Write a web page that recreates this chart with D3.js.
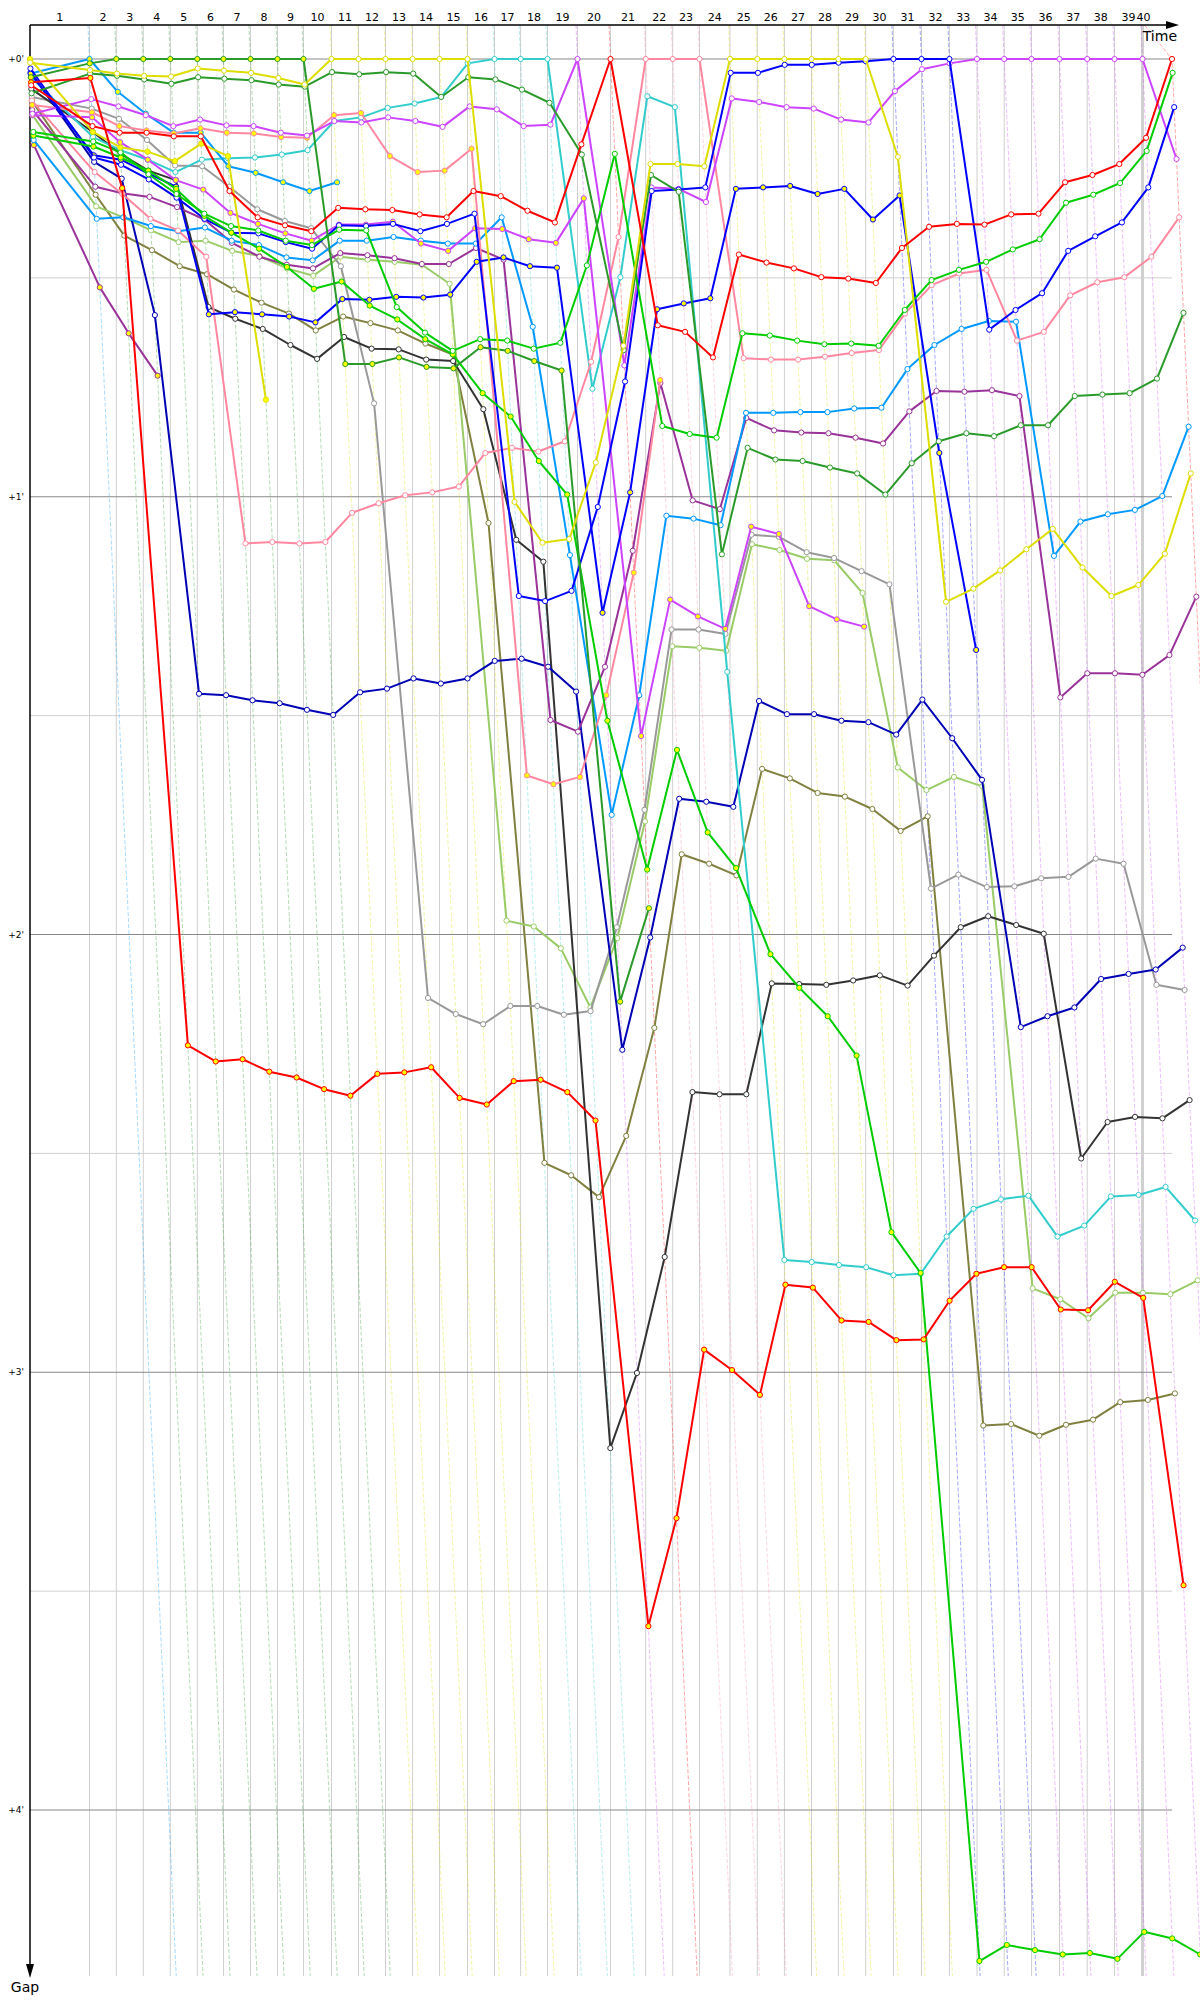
<!DOCTYPE html>
<html>
<head>
<meta charset="utf-8">
<script src="https://cdn.jsdelivr.net/npm/d3@7"></script>
<style>
body { margin: 0; background: #fff; }
text { font-family: 'DejaVu Sans', Verdana, sans-serif; }
</style>
</head>
<body>
<div id="chart"></div>
<script>
// leader race time (s) at the end of each lap, lap 0 = start
var leaderTime = [0, 180.3, 261.5, 343.3, 425.2, 507.0, 586.4, 668.2, 750.0, 828.8, 913.6, 995.5, 1077.3, 1159.4,
    1240.9, 1325.8, 1407.6, 1486.7, 1568.2, 1659.1, 1759.1, 1865.8, 1947.6, 2028.8, 2121.2, 2203.9, 2286.1, 2368.2,
    2449.7, 2532.4, 2616.4, 2701.5, 2786.1, 2869.7, 2952.1, 3034.8, 3119.7, 3203.6, 3286.4, 3371.2, 3460.6]

var lapLabels = d3.range(1, 41).map(String)
var gapTicks = [0, 60, 120, 180, 240]
var gapTickLabels = ["+0'", "+1'", "+2'", "+3'", "+4'"]
var halfTicks = [30, 90, 150, 210]

// gap to leader in seconds, one value per lap from lap 0
var redA = [3.6, 9.2, 10.1, 10.1, 10.6, 10.6, 18.1, 21.7, 22.8, 23.6, 20.4, 20.6, 20.7, 21.3, 21.7, 18.1, 18.8, 20.8, 22.4, 11.7, 0, 36.5, 37.4, 40.9, 26.8, 27.9, 28.7, 29.9, 30.1, 30.7, 25.9, 23.0, 22.6, 22.7, 21.3, 21.2, 16.9, 15.9, 14.4, 10.8, 0]
var redB = [3.2, 2.6, 17.7, 135.2, 137.4, 137.1, 138.8, 139.6, 141.2, 142.1, 139.1, 138.9, 138.2, 142.4, 143.3, 140.1, 139.9, 141.6, 145.5, 214.8, 200.0, 176.9, 179.7, 183.1, 168.0, 168.4, 172.9, 173.1, 175.6, 175.5, 170.2, 166.5, 165.6, 165.6, 171.4, 171.5, 167.6, 169.8, 209.2]
var limeA = [10.0, 11.3, 12.8, 15.8, 18.5, 21.2, 22.9, 23.5, 24.9, 25.5, 23.4, 23.5, 34.0, 37.5, 40.0, 38.4, 38.6, 39.7, 38.9, 28.3, 13.0, 50.3, 51.4, 51.9, 37.6, 37.9, 38.6, 39.1, 39.0, 39.3, 34.4, 30.3, 28.9, 27.8, 26.1, 24.7, 19.7, 18.6, 17.0, 12.6, 1.9]
var limeB = [10.5, 12.0, 13.5, 15.3, 17.8, 21.5, 23.8, 26.0, 28.5, 31.5, 30.5, 33.8, 35.7, 38.4, 40.5, 45.8, 49.0, 55.1, 59.7, 90.7, 111.1, 94.7, 106.0, 110.9, 122.7, 127.3, 131.2, 136.6, 160.8, 166.4, 260.7, 258.5, 259.2, 259.8, 259.6, 260.4, 256.7, 257.6, 259.8]
var darkGreenA = [2.5, 0.6, 0, 0, 0, 0, 0, 0, 0, 0, 41.8, 41.8, 40.9, 42.2, 42.4, 39.5, 40.0, 41.4, 42.7, 129.2, 116.4]
var darkGreenB = [4.7, 2.0, 2.3, 2.8, 3.4, 2.5, 2.7, 2.9, 3.5, 3.8, 1.8, 2.1, 1.8, 2.0, 5.2, 2.5, 2.8, 4.2, 6.0, 13.1, 39.9, 15.9, 18.2, 67.9, 53.3, 54.9, 55.1, 56.0, 56.8, 59.7, 55.4, 52.4, 51.3, 51.7, 50.2, 50.2, 46.2, 46.0, 45.8, 43.8, 34.8]
var yellowA = [0.5, 1.5, 2.0, 2.3, 2.4, 1.3, 1.6, 1.9, 2.6, 3.5, 0, 0, 0, 0, 0, 0, 60.7, 66.3, 65.8, 55.3, 39.3, 14.4, 14.4, 14.7, 0, 0, 0, 0, 0, 0, 13.4, 74.4, 72.6, 70.1, 67.2, 64.4, 69.7, 73.6, 72.1, 67.8, 56.8]
var yellowB = [0, 10.0, 12.1, 12.7, 14.0, 11.6, 13.3, 46.7]
var cyan = [2.5, 10.7, 12.5, 13.8, 15.5, 13.8, 13.6, 13.5, 13.1, 12.5, 8.5, 8.0, 6.7, 6.1, 5.2, 0.6, 0, 0, 0, 45.2, 29.9, 5.1, 6.6, 84.0, 164.6, 164.9, 165.3, 165.6, 166.7, 166.5, 161.4, 157.6, 156.3, 155.8, 161.4, 159.9, 155.9, 155.7, 154.6, 159.2]
var pinkA = [5.7, 15.5, 18.5, 21.9, 23.5, 27.1, 66.4, 66.2, 66.4, 66.2, 62.2, 60.9, 59.8, 59.4, 58.6, 54.0, 53.3, 53.8, 52.4, 41.5, 24.4, 0, 0, 0, 41.0, 41.2, 41.2, 40.8, 40.3, 39.9, 34.9, 31.0, 29.4, 28.9, 38.6, 37.4, 32.4, 30.6, 29.9, 27.1, 21.7]
var pinkB = [6.3, 7.3, 9.2, 9.8, 10.2, 9.5, 10.1, 10.2, 10.7, 10.8, 7.7, 7.4, 13.3, 15.5, 15.3, 12.3, 98.2, 99.4, 98.4, 87.2, 70.4, 44.0]
var violetA = [7.5, 5.5, 6.5, 7.7, 9.2, 8.3, 9.1, 9.2, 10.1, 10.5, 8.5, 8.7, 8.0, 8.5, 9.3, 6.5, 6.9, 9.2, 9.0, 0, 42.0, 17.6, 17.8, 19.6, 5.4, 5.9, 6.6, 6.8, 8.3, 8.7, 4.4, 1.4, 0.6, 0, 0, 0, 0, 0, 0, 0, 13.7]
var violetB = [7.7, 8.0, 11.4, 13.8, 16.6, 17.9, 21.1, 22.6, 23.9, 24.9, 22.7, 22.7, 22.3, 25.3, 26.3, 23.2, 23.3, 24.7, 25.2, 19.1, 92.8, 74.1, 76.4, 78.1, 64.1, 65.1, 75.0, 76.8, 77.8]
var blueC = [1.3, 13.5, 14.5, 16.5, 19.0, 21.9, 23.8, 23.9, 25.1, 26.0, 22.8, 22.9, 22.6, 23.6, 22.6, 21.2, 73.6, 74.3, 72.9, 61.4, 44.2, 18.1, 17.9, 17.6, 1.9, 1.9, 0.8, 0.8, 0.5, 0.3, 0, 0, 0, 37.1, 34.4, 32.1, 26.3, 24.3, 22.4, 17.6, 6.6]
var blueB = [2.0, 13.2, 13.8, 15.7, 17.5, 35.0, 34.7, 35.0, 35.3, 36.1, 32.9, 33.0, 32.6, 32.7, 32.3, 27.8, 27.2, 28.4, 28.6, 75.9, 59.4, 34.3, 33.5, 32.8, 17.8, 17.6, 17.4, 18.5, 17.8, 22.0, 18.7, 54.0, 81.0]
var navy = [1.8, 14.1, 16.4, 35.1, 87.0, 87.2, 87.9, 88.3, 89.2, 89.9, 86.8, 86.3, 84.9, 85.6, 84.9, 82.5, 82.2, 83.3, 86.7, 135.8, 120.4, 101.4, 101.8, 102.5, 88.0, 89.8, 89.8, 90.7, 90.9, 92.6, 87.8, 93.1, 98.8, 132.7, 131.2, 130.0, 126.1, 125.4, 124.8, 121.8]
var azureA = [11.1, 21.9, 21.7, 22.9, 23.6, 23.1, 24.9, 25.5, 27.2, 27.6, 24.9, 24.9, 24.4, 24.9, 25.3, 25.3, 21.7, 36.7, 68.0, 103.6, 87.2, 62.6, 63.0, 63.9, 48.5, 48.5, 48.4, 48.4, 47.9, 47.8, 42.5, 39.2, 37.0, 35.9, 36.0, 68.1, 63.4, 62.4, 61.8, 59.9, 50.4]
var azureB = [2.0, 0, 4.5, 7.5, 10.1, 10.1, 14.7, 15.6, 16.9, 18.1, 16.9]
var gray = [5.2, 6.8, 8.2, 11.1, 14.6, 14.7, 17.5, 20.6, 22.2, 23.2, 28.4, 47.2, 128.7, 130.9, 132.3, 129.8, 129.8, 131.0, 130.5, 119.0, 102.9, 78.2, 78.2, 78.8, 65.2, 65.5, 67.6, 68.4, 70.2, 72.0, 113.7, 111.8, 113.5, 113.4, 112.3, 112.1, 109.6, 110.3, 126.9, 127.6]
var black = [4.1, 10.0, 13.0, 15.3, 16.6, 34.0, 35.6, 37.0, 39.2, 41.1, 38.1, 39.7, 39.8, 41.2, 41.4, 48.0, 65.9, 68.9, 190.4, 180.1, 164.2, 141.6, 141.9, 141.9, 126.7, 126.8, 126.9, 126.3, 125.6, 127.0, 122.9, 119.0, 117.5, 118.7, 119.9, 150.7, 145.7, 145.0, 145.2, 142.7]
var olive = [5.7, 18.6, 24.2, 26.2, 28.4, 29.5, 31.6, 33.4, 34.9, 37.2, 35.3, 36.2, 37.2, 39.0, 40.5, 63.6, 151.3, 153.0, 156.0, 147.6, 132.8, 109.0, 110.3, 111.9, 97.3, 98.6, 100.6, 101.1, 102.8, 105.8, 103.8, 187.3, 187.1, 188.7, 187.2, 186.5, 184.1, 183.8, 182.9]
var yellowGreen = [7.7, 20.2, 21.7, 23.5, 25.1, 24.9, 26.3, 27.0, 28.7, 29.7, 27.1, 27.5, 27.8, 28.2, 30.8, 118.1, 118.9, 121.9, 130.0, 120.5, 104.5, 80.5, 80.7, 81.1, 66.5, 67.3, 68.5, 68.7, 73.2, 97.1, 100.2, 98.4, 99.7, 168.5, 170.0, 172.6, 169.1, 169.1, 169.3, 167.4]
var purple = [7.0, 17.5, 18.4, 18.9, 20.3, 22.0, 25.2, 27.1, 28.2, 28.7, 26.6, 26.9, 27.3, 28.1, 28.1, 25.9, 27.5, 90.6, 92.2, 83.3, 67.4, 44.4, 60.5, 61.7, 49.2, 50.9, 51.2, 51.3, 51.9, 52.7, 48.3, 45.5, 45.6, 45.4, 46.2, 87.5, 84.2, 84.2, 84.4, 81.7, 73.7]
var purpleB = [11.8, 31.3, 37.6, 43.4]

var series = [
    { gaps: purpleB, color: '#993399', fill: '#ffff00' },
    { gaps: olive, color: '#808040', fill: '#fff' },
    { gaps: yellowGreen, color: '#99cc66', fill: '#fff' },
    { gaps: gray, color: '#999999', fill: '#fff' },
    { gaps: black, color: '#333333', fill: '#fff' },
    { gaps: navy, color: '#0000b4', fill: '#fff' },
    { gaps: cyan, color: '#33cccc', fill: '#fff' },
    { gaps: purple, color: '#993399', fill: '#fff' },
    { gaps: azureA, color: '#0099ff', fill: '#fff' },
    { gaps: azureB, color: '#0099ff', fill: '#ffff00' },
    { gaps: pinkA, color: '#ff88a0', fill: '#fff' },
    { gaps: pinkB, color: '#ff88a0', fill: '#ffff00' },
    { gaps: violetB, color: '#cc44ff', fill: '#ffff00' },
    { gaps: violetA, color: '#cc44ff', fill: '#fff' },
    { gaps: blueB, color: '#0000ff', fill: '#ffff00' },
    { gaps: blueC, color: '#0000ff', fill: '#fff' },
    { gaps: limeB, color: '#00cc00', fill: '#ffff00' },
    { gaps: limeA, color: '#00cc00', fill: '#fff' },
    { gaps: darkGreenA, color: '#2a9a2a', fill: '#ffff00' },
    { gaps: darkGreenB, color: '#2a9a2a', fill: '#fff' },
    { gaps: yellowB, color: '#dddd00', fill: '#ffff00' },
    { gaps: yellowA, color: '#dddd00', fill: '#fff' },
    { gaps: redB, color: '#ff0000', fill: '#ffff00' },
    { gaps: redA, color: '#ff0000', fill: '#fff' }
]

var width = 1200
var height = 2000
var axisTop = 25
var axisBottom = 1976

var svg = d3.select('#chart')
    .append('svg')
    .attr('width', width)
    .attr('height', height)

var x = d3.scaleLinear()
    .domain([0, leaderTime[leaderTime.length - 1]])
    .range([30, 1172])

var y = d3.scaleLinear()
    .domain([0, 240])
    .range([59, 1810])

var lastLap = leaderTime.length - 1
var gridRight = x(leaderTime[lastLap])

// half minute lines
svg.append('g')
    .selectAll('line')
    .data(halfTicks)
    .enter()
    .append('line')
    .attr('x1', x(0))
    .attr('x2', gridRight)
    .attr('y1', (d) => y(d))
    .attr('y2', (d) => y(d))
    .attr('stroke', '#d0d0d0')

// lap grid
svg.append('g')
    .selectAll('line')
    .data(d3.range(1, lastLap))
    .enter()
    .append('line')
    .attr('x1', (n) => x(leaderTime[n]))
    .attr('x2', (n) => x(leaderTime[n]))
    .attr('y1', axisTop)
    .attr('y2', axisBottom)
    .attr('stroke', '#d0d0d0')
    .attr('stroke-width', (n) => n == lastLap - 1 ? 3 : 1)

// minute lines
svg.append('g')
    .selectAll('line')
    .data(gapTicks)
    .enter()
    .append('line')
    .attr('x1', x(0))
    .attr('x2', gridRight)
    .attr('y1', (d) => y(d))
    .attr('y2', (d) => y(d))
    .attr('stroke', '#888')

// lap lines, coloured by the leader of that lap
function leaderOf(n) {
    var best = series[0]
    series.forEach(function (s) {
        if (s.gaps[n] !== undefined && (best.gaps[n] === undefined || s.gaps[n] < best.gaps[n])) best = s
    })
    return best
}

var gTop = y.invert(axisTop)
var gBottom = y.invert(axisBottom)

svg.append('g')
    .selectAll('path')
    .data(d3.range(1, lastLap + 1))
    .enter()
    .append('path')
    .attr('d', function (n) {
        var top = n == lastLap
            ? [x(leaderTime[n - 1]) + 2, axisTop, x(leaderTime[n]), y(0)]
            : [x(leaderTime[n] + gTop), axisTop]
        return 'M' + top.join(',') + ' L' + x(leaderTime[n] + gBottom) + ',' + axisBottom
    })
    .attr('fill', 'none')
    .attr('stroke', (n) => leaderOf(n).color)
    .attr('stroke-opacity', 0.35)
    .attr('stroke-width', 1)
    .attr('stroke-dasharray', '4,2')

// axes
svg.append('line')
    .attr('x1', x(0)).attr('y1', axisTop)
    .attr('x2', 1170).attr('y2', axisTop)
    .attr('stroke', '#000').attr('stroke-width', 1.5)
svg.append('path')
    .attr('d', 'M1166,21 L1179,25 L1166,29 Z')
    .attr('fill', '#000')
svg.append('line')
    .attr('x1', x(0)).attr('y1', axisTop)
    .attr('x2', x(0)).attr('y2', axisBottom - 8)
    .attr('stroke', '#000').attr('stroke-width', 1.5)
svg.append('path')
    .attr('d', 'M26,1964 L30,1978 L34,1964 Z')
    .attr('fill', '#000')

svg.append('text')
    .attr('x', 1177)
    .attr('y', 41)
    .attr('text-anchor', 'end')
    .attr('font-size', 14)
    .text('Time')

svg.append('text')
    .attr('x', 25)
    .attr('y', 1992)
    .attr('text-anchor', 'middle')
    .attr('font-size', 14)
    .text('Gap')

svg.append('g')
    .selectAll('text')
    .data(lapLabels)
    .enter()
    .append('text')
    .attr('x', function (d, i) {
        var n = i + 1
        if (n == lastLap) return x(leaderTime[n - 1]) + 1
        return (x(leaderTime[n - 1]) + x(leaderTime[n])) / 2
    })
    .attr('y', 21)
    .attr('text-anchor', 'middle')
    .attr('font-size', 11)
    .text((d) => d)

svg.append('g')
    .selectAll('text')
    .data(gapTicks)
    .enter()
    .append('text')
    .attr('x', 24)
    .attr('y', (d) => y(d) + 3)
    .attr('text-anchor', 'end')
    .attr('font-size', 9)
    .text((d, i) => gapTickLabels[i])

// drivers
var line = d3.line()
    .x((g, i) => x(leaderTime[i] + g))
    .y((g) => y(g))

var drivers = svg.append('g')
    .selectAll('g')
    .data(series)
    .enter()
    .append('g')

drivers.append('path')
    .attr('d', (s) => line(s.gaps))
    .attr('fill', 'none')
    .attr('stroke', (s) => s.color)
    .attr('stroke-width', 2)
    .attr('stroke-linejoin', 'round')

drivers.selectAll('circle')
    .data((s) => s.gaps.map((g, i) => ({ g: g, lap: i, s: s })))
    .enter()
    .append('circle')
    .attr('cx', (d) => x(leaderTime[d.lap] + d.g))
    .attr('cy', (d) => y(d.g))
    .attr('r', 2.6)
    .attr('fill', (d) => d.s.fill)
    .attr('stroke', (d) => d.s.color)
    .attr('stroke-width', 1)
</script>
</body>
</html>
